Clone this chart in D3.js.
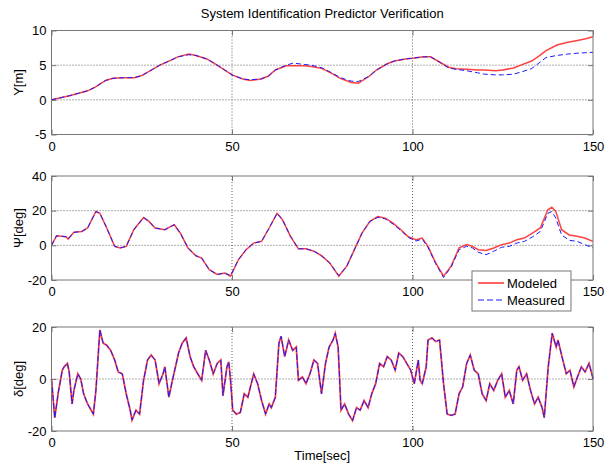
<!DOCTYPE html>
<html>
<head>
<meta charset="utf-8">
<script src="https://cdn.jsdelivr.net/npm/d3@7"></script>
<style>
  body { margin: 0; background: #fff; }
  text { font-family: "Liberation Sans", Arial, Helvetica, sans-serif; fill: #000; }
</style>
</head>
<body>
<div id="chart"></div>
<script>
/* System identification: modeled vs measured */

// Y[m]
var yTime = [0,5,10,12,15,17,20,23,25,28,30,33,35,38,40,43,45,48,50,53,55,58,60,62,65,67,70,72,75,78,80,83,85,88,90,93,95,98,100,103,105,107,110,112,115,118,120,123,125,128,130,133,135,137,140,143,145,148,150];
var yMeasured = [0,0.6,1.3,1.8,2.8,3.1,3.2,3.2,3.5,4.4,5.0,5.7,6.2,6.5,6.4,5.9,5.3,4.3,3.6,3.0,2.9,3.0,3.4,4.3,5.0,5.3,5.1,5.0,4.6,3.8,3.2,2.7,2.65,3.4,4.3,5.2,5.6,5.9,6.0,6.2,6.2,5.6,4.6,4.4,4.2,3.9,3.7,3.6,3.6,3.7,4.0,4.5,5.3,6.1,6.4,6.6,6.7,6.8,6.85];
var yModeled = [0,0.6,1.3,1.8,2.8,3.1,3.2,3.2,3.5,4.4,5.0,5.7,6.2,6.6,6.4,5.9,5.3,4.3,3.6,3.0,2.8,3.0,3.4,4.3,4.9,4.9,4.9,4.8,4.5,3.7,3.1,2.5,2.4,3.4,4.3,5.2,5.6,5.9,6.0,6.2,6.2,5.6,4.7,4.5,4.4,4.3,4.3,4.2,4.3,4.6,5.0,5.6,6.3,7.1,7.9,8.3,8.5,8.8,9.1];

// Psi[deg]
var psiTime = [0,1.4,4,4.6,6.2,8.4,10,12.3,13.4,15.3,17.5,19,20.7,22.8,25.5,27,28.7,31.4,34,35.7,37.8,40,41.6,43.7,45.9,48,49.6,51.8,53.9,56,58.2,60.3,62.5,64,66.2,68.4,70.5,72.7,74.8,77,79.6,81.8,83.9,86,88.2,90.4,92.5,94.6,96.8,98.9,101,102.7,104.3,106.4,108.6,110.7,112.9,115,116.6,118.2,120.4,122.5,124.7,126.8,128.9,131,133.2,135.4,137.5,138.6,139.7,141.3,143.4,145.6,147.7,150];
var psiModeled = [0,5.5,5,3.6,7.5,8,10,19.5,18.5,10,-0.6,-1.5,-0.6,9,16,13.8,10,9,11.9,7,-1.5,-6,-7.3,-14,-16.8,-16,-17.8,-8.2,-2.5,1.3,2.3,10,18.5,14.7,5.2,-2,-2,-3.4,-6,-10,-17.8,-12,-2.5,7,13.8,16.6,15.7,12.8,9,4.8,3.2,4.2,-0.6,-10,-17.8,-12,-1.5,0.4,-0.6,-2.5,-3,-1.5,0.4,1.3,3.2,4.2,7,10,20.5,22,19.5,9,6,5.2,4.2,2.3];
var psiMeasured = [0,5.5,5,3.6,7.5,8,10,19.5,18.5,10,-0.6,-1.5,-0.6,9,16,13.8,10,9,11.9,7,-1.5,-6,-7.3,-14,-16.8,-16,-17.5,-8.2,-2.5,1.3,2.3,10,18.5,14.7,5.2,-2,-2,-3.4,-6,-10,-17.5,-12,-2.5,7,13.8,16.2,15.2,12.3,8.5,4.5,2.5,3.6,-1.2,-10.5,-18.5,-12.5,-2.5,-0.5,-1.5,-4,-5.4,-3.4,-1.1,-0.6,1.3,2.3,4.8,8,18.5,19.5,15.7,6,2.9,2.3,0.4,-1.5];

// delta[deg]
var deltaTime = [0,0.9,1.9,3,3.5,4.4,4.9,5.7,6.2,7.3,8.1,8.9,10,11,11.6,12.3,13.4,14.3,15.3,16.4,17.5,18.5,19.6,20.7,21.8,22.3,23.4,24.4,25.5,26.6,27.6,28.7,29.8,30.9,31.4,32.5,33.5,35.2,36.2,37.3,38.4,39.4,40.5,41.6,42.7,43.7,44.8,45.9,46.9,47.5,48.6,49.1,49.6,50.2,51.2,52.3,53.4,54.4,56,57.1,58.2,59.3,60.3,60.9,62,63,63.6,64.6,65.7,66.8,67.8,68.4,69.5,70.5,71.6,72.7,73.7,74.8,75.9,76.9,78,78.6,79.4,80.2,81.2,82.3,83.4,84.5,85.5,86.6,87.7,88.7,89.8,90.9,92,93,94.1,95.2,96.2,97.3,98.4,99.5,100.5,101.6,102.1,102.7,103.8,104.3,105.4,106.4,107.5,108.6,109.6,110.7,111.8,112.9,113.9,115,116,117.1,118.2,119.3,120.4,121.4,122.5,123.6,124.7,125.7,126.8,127.9,128.9,129.5,130.5,131.6,132.7,133.8,134.8,135.9,136.5,137.6,138.7,139.8,140.3,141.4,142.6,143.6,144.7,145.7,146.8,147.8,148.9,149.9,150];
var deltaMeasured = [0,-15,-5,3.4,4.7,6,2.7,-9.6,-4.4,2,0,-5.7,-9.6,-12,-13.5,-4.4,18.9,13.8,13,11,7.3,2.7,2,-5.7,-12,-15.8,-12,-13.5,-0.5,7.3,9.2,7.3,-1.8,2,4.7,-7,-0.5,10,13.8,15.8,8.6,4.7,2,-0.5,11,7.3,2,6,7.3,-6.4,4.7,6.6,-0.5,-12,-13.5,-12.9,-5.7,-7,2,-1.8,-8.3,-13.5,-9.6,-11,-7,13.8,16.4,8.6,15,11,12.3,-0.5,0.8,-1.8,2,7.3,6,-5.7,6,12.3,15,17.6,12.3,-12,-9.6,-13.5,-16,-11,-12,-8.3,-11,-5.7,-1.8,6,4.7,8.6,7.3,3.4,10,8.6,6,3.4,-1.8,7.3,-0.5,-1.8,4.7,15,15.8,14.4,15,-1.8,-13.5,-14,-13.5,-5.7,-3,6,9.2,3.4,2,-5.7,-8.3,-1.8,-4.4,-0.5,2,-7,-4.4,-9.6,3.4,4.7,-0.5,2,-4.4,-9.6,-7,-11,-14.8,4.7,17.6,12.3,15,8.6,2,3.4,-3,0.8,4.7,2.7,6,0.8,0];
var deltaModeled = deltaMeasured; // the two traces coincide at this scale

var xTicks = [0, 50, 100, 150];
var legendLabels = ['Modeled', 'Measured'];

var width = 605, height = 464;
var x_left = 51.5, x_right = 593;

var svg = d3.select("#chart")
	.append("svg")
	.attr("width", width)
	.attr("height", height);

var x = d3.scaleLinear().domain([0, 150]).range([x_left, x_right]);
var plain = function (d) { return String(d); };   // hyphen minus, like matlab

var panels = [
	{ top: 30.5, bottom: 134.5, domain: [-5, 10], ticks: [-5, 0, 5, 10], label: 'Y[m]',
	  t: yTime, modeled: yModeled, measured: yMeasured },
	{ top: 176, bottom: 280, domain: [-20, 40], ticks: [-20, 0, 20, 40], label: '\u03A8[deg]',
	  t: psiTime, modeled: psiModeled, measured: psiMeasured },
	{ top: 327, bottom: 431, domain: [-20, 20], ticks: [-20, 0, 20], label: '\u03B4[deg]',
	  t: deltaTime, modeled: deltaModeled, measured: deltaMeasured }
];

panels.forEach(function (p, k) {
	var y = d3.scaleLinear().domain(p.domain).range([p.bottom, p.top]);
	var g = svg.append("g");

	g.append("rect")
		.attr("x", x_left).attr("y", p.top)
		.attr("width", x_right - x_left).attr("height", p.bottom - p.top)
		.attr("fill", "white");

	// dotted grid
	g.selectAll(".gx").data(xTicks.slice(1, -1)).enter().append("line")
		.attr("x1", function (d) { return x(d); }).attr("x2", function (d) { return x(d); })
		.attr("y1", p.top).attr("y2", p.bottom)
		.attr("stroke", "#333").attr("stroke-width", 0.8).attr("stroke-dasharray", "1,2");
	g.selectAll(".gy").data(p.ticks.slice(1, -1)).enter().append("line")
		.attr("x1", x_left).attr("x2", x_right)
		.attr("y1", function (d) { return y(d); }).attr("y2", function (d) { return y(d); })
		.attr("stroke", "#333").attr("stroke-width", 0.8).attr("stroke-dasharray", "1,2");

	// axes, ticks inside like MATLAB
	var ax = [
		d3.axisBottom(x).tickValues(xTicks).tickSizeInner(-5).tickPadding(7).tickFormat(plain),
		d3.axisTop(x).tickValues(xTicks).tickSizeInner(-5).tickFormat(""),
		d3.axisLeft(y).tickValues(p.ticks).tickSizeInner(-5).tickPadding(5).tickFormat(plain),
		d3.axisRight(y).tickValues(p.ticks).tickSizeInner(-5).tickFormat("")
	];
	var pos = ["translate(0," + p.bottom + ")", "translate(0," + p.top + ")",
		"translate(" + x_left + ",0)", "translate(" + x_right + ",0)"];
	ax.forEach(function (a, i) {
		var ag = g.append("g").attr("transform", pos[i]).call(a.tickSizeOuter(0));
		ag.select(".domain").remove();
		ag.selectAll(".tick line").attr("stroke", "#777");
		ag.selectAll(".tick text")
			.style("font-size", "13px")
			.attr("fill", "#000");
	});

	var line = d3.line()
		.x(function (d) { return x(d[0]); })
		.y(function (d) { return y(d[1]); });

	g.append("path")
		.datum(d3.zip(p.t, p.modeled))
		.attr("d", line)
		.attr("fill", "none")
		.attr("stroke", "#ff2020")
		.attr("stroke-width", k == 2 ? 1.8 : 1.5)
		.attr("stroke-opacity", 0.85);

	g.append("path")
		.datum(d3.zip(p.t, p.measured))
		.attr("d", line)
		.attr("fill", "none")
		.attr("stroke", "#1a1aff")
		.attr("stroke-width", 1)
		.attr("stroke-dasharray", k == 2 ? "6,2" : "5,3");

	g.append("rect")
		.attr("x", x_left).attr("y", p.top)
		.attr("width", x_right - x_left).attr("height", p.bottom - p.top)
		.attr("fill", "none")
		.attr("stroke", "#777").attr("stroke-width", 1);

	g.append("text")
		.attr("transform", "translate(23," + ((p.top + p.bottom) / 2) + ") rotate(-90)")
		.attr("text-anchor", "middle")
		.style("font-size", "13px")
		.text(p.label);
});

svg.append("text")
	.attr("x", (x_left + x_right) / 2).attr("y", 18)
	.attr("text-anchor", "middle")
	.style("font-size", "13px")
	.text("System Identification Predictor Verification");

svg.append("text")
	.attr("x", (x_left + x_right) / 2).attr("y", 460)
	.attr("text-anchor", "middle")
	.style("font-size", "13px")
	.text("Time[sec]");

// legend
var lg = svg.append("g").attr("transform", "translate(472,271)");
lg.append("rect")
	.attr("width", 99).attr("height", 40)
	.attr("fill", "white").attr("stroke", "#777");
legendLabels.forEach(function (name, i) {
	lg.append("line")
		.attr("x1", 6).attr("x2", 32)
		.attr("y1", 12 + i * 17).attr("y2", 12 + i * 17)
		.attr("stroke", i == 0 ? "#ff2020" : "#1a1aff")
		.attr("stroke-width", i == 0 ? 1.4 : 1)
		.attr("stroke-dasharray", i == 0 ? null : "6,3");
	lg.append("text")
		.attr("x", 35).attr("y", 16.5 + i * 17)
		.style("font-size", "13px")
		.text(name);
});
</script>
</body>
</html>
